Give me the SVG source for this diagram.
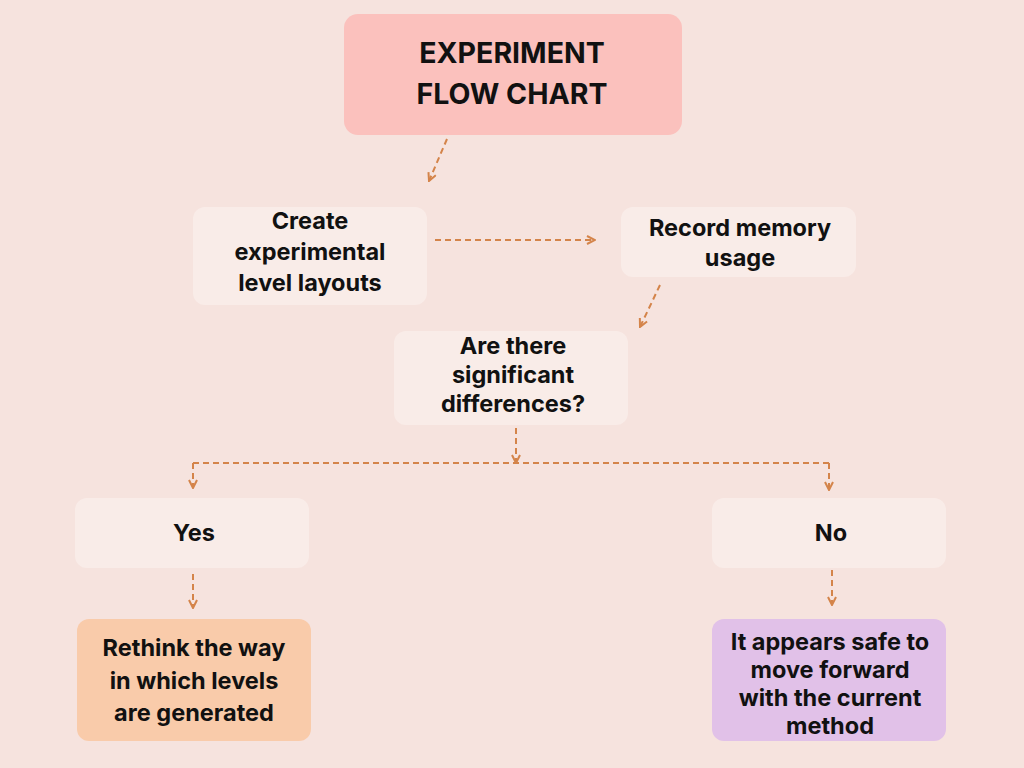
<svg xmlns="http://www.w3.org/2000/svg" width="1024" height="768" viewBox="0 0 1024 768">
<style>
.t{font-family:Inter,"Liberation Sans",sans-serif;font-weight:700;fill:#111;text-anchor:middle}
.n{font-size:23.5px}
.h{font-size:28.5px}
.c{fill:none;stroke:#d4844a;stroke-width:2;stroke-dasharray:6 4}
</style>
<defs>
<marker id="a" viewBox="0 0 10 10" refX="9" refY="5" markerWidth="5" markerHeight="5" orient="auto" markerUnits="strokeWidth">
<path d="M1,1 L9,5 L1,9" fill="none" stroke="#d4844a" stroke-width="2"/>
</marker>
</defs>
<rect width="1024" height="768" fill="#f6e3de"/>
<g id="title"><rect x="344" y="14" width="338" height="121" rx="14" fill="#fbc1bd"/>
<text class="t h" x="512" y="63">EXPERIMENT</text><text class="t h" x="512" y="104">FLOW CHART</text></g>
<g id="create"><rect x="193" y="207" width="234" height="98" rx="12" fill="#f9ece8"/>
<text class="t n" x="310" y="229">Create</text><text class="t n" x="310" y="260">experimental</text><text class="t n" x="310" y="291">level layouts</text></g>
<g id="record"><rect x="621" y="207" width="235" height="70" rx="12" fill="#f9ece8"/>
<text class="t n" x="740" y="236">Record memory</text><text class="t n" x="740" y="266">usage</text></g>
<g id="question"><rect x="394" y="331" width="234" height="94" rx="12" fill="#f9ece8"/>
<text class="t n" x="513" y="354">Are there</text><text class="t n" x="513" y="383">significant</text><text class="t n" x="513" y="412">differences?</text></g>
<g id="yes"><rect x="75" y="498" width="234" height="70" rx="12" fill="#f9ece8"/>
<text class="t n" x="194" y="541">Yes</text></g>
<g id="no"><rect x="712" y="498" width="234" height="70" rx="12" fill="#f9ece8"/>
<text class="t n" x="831" y="541">No</text></g>
<g id="rethink"><rect x="77" y="619" width="234" height="122" rx="12" fill="#f9cbaa"/>
<text class="t n" x="194" y="656">Rethink the way</text><text class="t n" x="194" y="689">in which levels</text><text class="t n" x="194" y="721">are generated</text></g>
<g id="safe"><rect x="712" y="619" width="234" height="122" rx="12" fill="#e1c1e8"/>
<text class="t n" x="830" y="650">It appears safe to</text><text class="t n" x="830" y="678">move forward</text><text class="t n" x="830" y="706">with the current</text><text class="t n" x="830" y="734">method</text></g>
<g id="connectors">
<path class="c" d="M447,139 L429,181" marker-end="url(#a)"/>
<path class="c" d="M435,240 L595,240" marker-end="url(#a)"/>
<path class="c" d="M660,285 L640,327" marker-end="url(#a)"/>
<path class="c" d="M516,428 L516,463" marker-end="url(#a)"/>
<path class="c" d="M193,463 L829,463"/>
<path class="c" d="M193,463 L193,488" marker-end="url(#a)"/>
<path class="c" d="M829,463 L829,490" marker-end="url(#a)"/>
<path class="c" d="M193,574 L193,608" marker-end="url(#a)"/>
<path class="c" d="M832,570 L832,605" marker-end="url(#a)"/>
</g>
</svg>
